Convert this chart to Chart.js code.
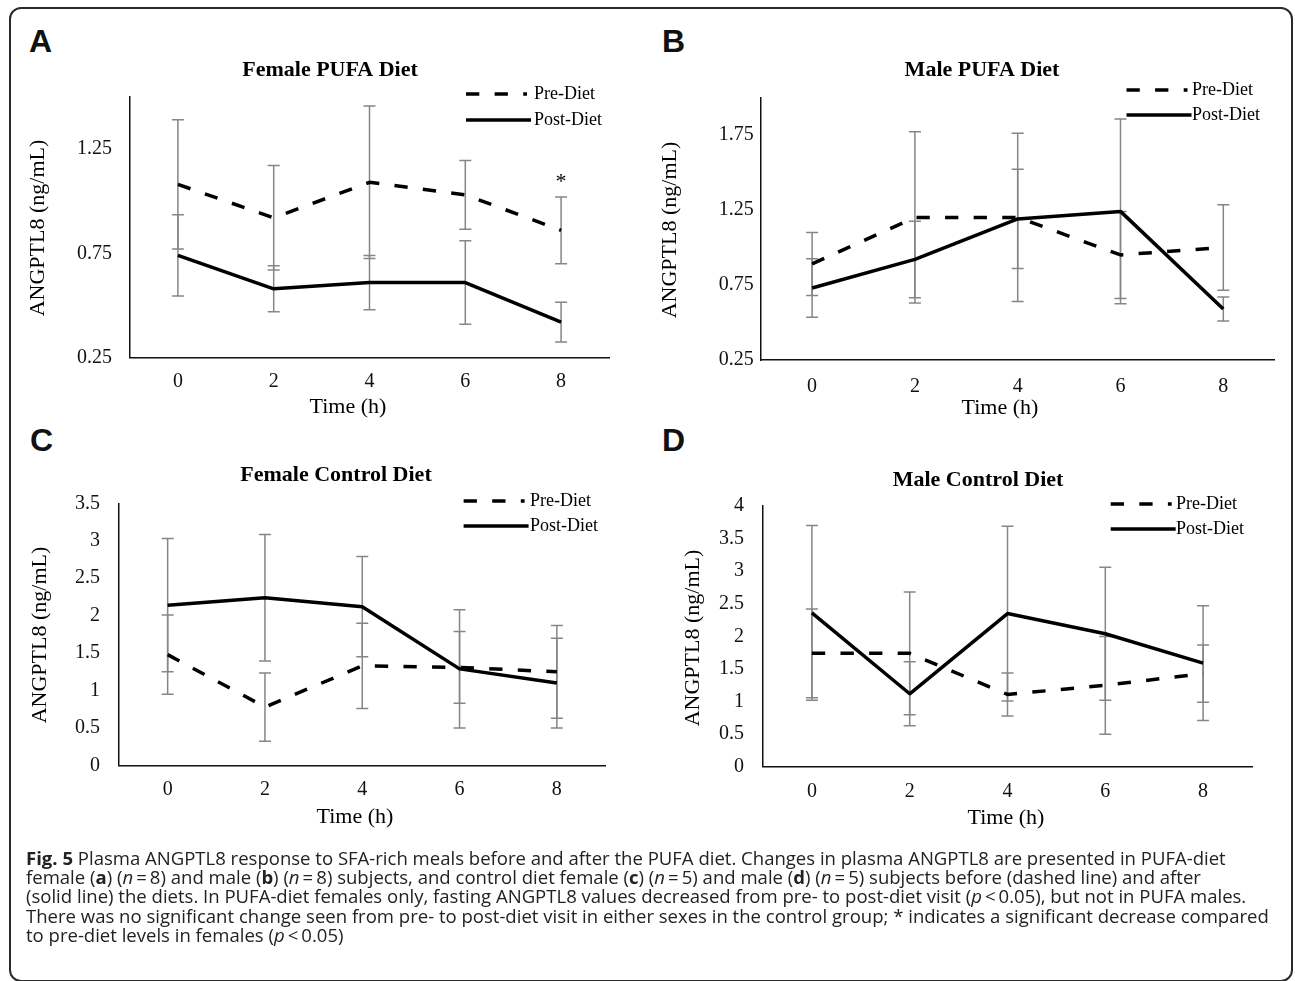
<!DOCTYPE html>
<html>
<head>
<meta charset="utf-8">
<script src="https://cdn.jsdelivr.net/npm/chart.js@4.4.1/dist/chart.umd.min.js"></script>
<style>
html,body{margin:0;padding:0;background:#fff;}
#page{position:relative;width:1295px;height:981px;overflow:hidden;background:#fff;}
canvas.layer{position:absolute;left:0;top:0;}
.frame{position:absolute;left:9px;top:7px;width:1284px;height:975px;box-sizing:border-box;border:2px solid #2b2b2b;border-radius:12px;}
.plabel{position:absolute;font-family:"Liberation Sans",Arial,sans-serif;font-weight:bold;font-size:32px;line-height:32px;color:#111;}
.caption{position:absolute;left:26px;top:848px;font-family:"Open Sans",sans-serif;font-size:18.55px;line-height:19.2px;color:#222;white-space:nowrap;}
</style>
</head>
<body>
<div id="page">
  <div class="frame"></div>
  <div class="plabel" style="left:29px;top:25px;">A</div>
  <div class="plabel" style="left:662px;top:25px;">B</div>
  <div class="plabel" style="left:30px;top:424px;">C</div>
  <div class="plabel" style="left:662px;top:424px;">D</div>
  <canvas id="cA" class="layer" width="1295" height="981"></canvas>
  <canvas id="cB" class="layer" width="1295" height="981"></canvas>
  <canvas id="cC" class="layer" width="1295" height="981"></canvas>
  <canvas id="cD" class="layer" width="1295" height="981"></canvas>
  <div class="caption">
    <div><b>Fig. 5</b> Plasma ANGPTL8 response to SFA-rich meals before and after the PUFA diet. Changes in plasma ANGPTL8 are presented in PUFA-diet</div>
    <div>female (<b>a</b>) (<i>n</i>&thinsp;=&thinsp;8) and male (<b>b</b>) (<i>n</i>&thinsp;=&thinsp;8) subjects, and control diet female (<b>c</b>) (<i>n</i>&thinsp;=&thinsp;5) and male (<b>d</b>) (<i>n</i>&thinsp;=&thinsp;5) subjects before (dashed line) and after</div>
    <div>(solid line) the diets. In PUFA-diet females only, fasting ANGPTL8 values decreased from pre- to post-diet visit (<i>p</i>&thinsp;&lt;&thinsp;0.05), but not in PUFA males.</div>
    <div>There was no significant change seen from pre- to post-diet visit in either sexes in the control group; * indicates a significant decrease compared</div>
    <div>to pre-diet levels in females (<i>p</i>&thinsp;&lt;&thinsp;0.05)</div>
  </div>
</div>
<script>
// ---------------- data ----------------
const timeLabels = ['0', '2', '4', '6', '8'];
const seriesNames = ['Pre-Diet', 'Post-Diet'];
const titles = ['Female PUFA Diet', 'Male PUFA Diet', 'Female Control Diet', 'Male Control Diet'];
const xAxisTitle = 'Time (h)';
const yAxisTitle = 'ANGPTL8 (ng/mL)';

// A: Female PUFA diet
const preA = [1.08, 0.92, 1.09, 1.03, 0.86];
const postA = [0.74, 0.58, 0.61, 0.61, 0.42];
const preErrA = [0.31, 0.25, 0.365, 0.165, 0.16];
const postErrA = [0.195, 0.11, 0.13, 0.2, 0.095];
const yTicksA = [0.25, 0.75, 1.25];
const yRangeA = [0.25, 1.5];
const sigIndexA = [4];

// B: Male PUFA diet
const preB = [0.89, 1.2, 1.2, 0.95, 1.0];
const postB = [0.73, 0.92, 1.19, 1.24, 0.59];
const preErrB = [0.21, 0.57, 0.56, 0.29, 0.285];
const postErrB = [0.195, 0.255, 0.33, 0.615, 0.08];
const yTicksB = [0.25, 0.75, 1.25, 1.75];
const yRangeB = [0.25, 2.0];
const sigIndexB = [];

// C: Female control diet
const preC = [1.48, 0.78, 1.33, 1.31, 1.25];
const postC = [2.14, 2.24, 2.12, 1.29, 1.10];
const preErrC = [0.53, 0.455, 0.57, 0.48, 0.62];
const postErrC = [0.89, 0.845, 0.67, 0.79, 0.6];
const yTicksC = [0, 0.5, 1, 1.5, 2, 2.5, 3, 3.5];
const yRangeC = [0, 3.5];
const sigIndexC = [];

// D: Male control diet
const preD = [1.74, 1.74, 1.11, 1.25, 1.43];
const postD = [2.36, 1.12, 2.35, 2.04, 1.59];
const preErrD = [0.68, 0.94, 0.33, 0.75, 0.44];
const postErrD = [1.34, 0.49, 1.34, 1.02, 0.88];
const yTicksD = [0, 0.5, 1, 1.5, 2, 2.5, 3, 3.5, 4];
const yRangeD = [0, 4];
const sigIndexD = [];

// ---------------- layout (page pixels) ----------------
const W = 1295, H = 981;
const Y_AXIS_W = 80, X_AXIS_H = 40;
const SERIF = '"Liberation Serif", "Times New Roman", serif';
const DASH = [13.3, 15.3];

const layouts = {
  A: {area: {l: 130, r: 609, t: 96.7, b: 357.7}, yPad: 18, xPad: 12,
      title: [330, 70], xTitle: [348, 407], yTitle: [38, 228],
      legend: {x: 466, tx: 534, yPre: 94, yPost: 120}},
  B: {area: {l: 760.7, r: 1274.7, t: 97.3, b: 360}, yPad: 7, xPad: 14.5,
      title: [982, 70], xTitle: [1000, 408], yTitle: [670, 230],
      legend: {x: 1126.5, tx: 1192, yPre: 90, yPost: 115}},
  C: {area: {l: 119, r: 605.5, t: 503.3, b: 765.5}, yPad: 19, xPad: 12.5,
      title: [336, 475], xTitle: [355, 817], yTitle: [40, 635],
      legend: {x: 463.6, tx: 530, yPre: 501, yPost: 526}},
  D: {area: {l: 763, r: 1252, t: 506, b: 766.8}, yPad: 19, xPad: 13,
      title: [978, 480], xTitle: [1006, 818], yTitle: [693.5, 638],
      legend: {x: 1110.7, tx: 1176, yPre: 504, yPost: 529}}
};

function decoPlugin(key, title, errSets, sigIdx) {
  const L = layouts[key];
  return {
    id: 'deco' + key,
    beforeDatasetsDraw(chart) {
      const {ctx} = chart, x = chart.scales.x, y = chart.scales.y;
      ctx.save();
      ctx.strokeStyle = '#868686';
      ctx.lineWidth = 1.5;
      errSets.forEach(([means, errs]) => {
        means.forEach((m, i) => {
          const px = x.getPixelForValue(i);
          const yt = y.getPixelForValue(m + errs[i]);
          const yb = y.getPixelForValue(m - errs[i]);
          ctx.beginPath();
          ctx.moveTo(px, yt); ctx.lineTo(px, yb);
          ctx.moveTo(px - 6, yt); ctx.lineTo(px + 6, yt);
          ctx.moveTo(px - 6, yb); ctx.lineTo(px + 6, yb);
          ctx.stroke();
        });
      });
      ctx.restore();
    },
    afterDraw(chart) {
      const {ctx} = chart, x = chart.scales.x, y = chart.scales.y;
      ctx.save();
      ctx.fillStyle = '#000';
      // chart title
      ctx.font = 'bold 22px ' + SERIF;
      ctx.textAlign = 'center';
      ctx.textBaseline = 'middle';
      ctx.fillText(title, L.title[0], L.title[1]);
      // axis titles
      ctx.font = '22px ' + SERIF;
      ctx.fillText(xAxisTitle, L.xTitle[0], L.xTitle[1]);
      ctx.save();
      ctx.translate(L.yTitle[0], L.yTitle[1]);
      ctx.rotate(-Math.PI / 2);
      ctx.fillText(yAxisTitle, 0, 0);
      ctx.restore();
      // legend
      const lg = L.legend;
      ctx.strokeStyle = '#000';
      ctx.lineWidth = 3.5;
      ctx.lineCap = 'butt';
      ctx.setLineDash(DASH);
      ctx.beginPath(); ctx.moveTo(lg.x, lg.yPre); ctx.lineTo(lg.x + 61, lg.yPre); ctx.stroke();
      ctx.setLineDash([]);
      ctx.beginPath(); ctx.moveTo(lg.x, lg.yPost); ctx.lineTo(lg.x + 65, lg.yPost); ctx.stroke();
      ctx.font = '18px ' + SERIF;
      ctx.textAlign = 'left';
      ctx.fillText(chart.data.datasets[0].label, lg.tx, lg.yPre);
      ctx.fillText(chart.data.datasets[1].label, lg.tx, lg.yPost);
      // significance marks above the pre-diet error bar
      const pre = errSets[0];
      ctx.font = '22px ' + SERIF;
      ctx.textAlign = 'center';
      ctx.textBaseline = 'alphabetic';
      sigIdx.forEach(i => {
        const px = x.getPixelForValue(i);
        const top = y.getPixelForValue(pre[0][i] + pre[1][i]);
        ctx.fillText('*', px, top - 20 + 11);
      });
      ctx.restore();
    }
  };
}

function makePanel(key, canvasId, title, pre, post, preErr, postErr, yTicks, yRange, sigIdx) {
  const L = layouts[key];
  const a = L.area;
  const tickFont = {family: SERIF, size: 20};
  new Chart(document.getElementById(canvasId), {
    type: 'line',
    data: {
      labels: timeLabels,
      datasets: [
        {label: seriesNames[0], data: pre, borderColor: '#000', borderWidth: 3.5,
         borderDash: DASH, pointRadius: 0, tension: 0, fill: false, borderJoinStyle: 'round'},
        {label: seriesNames[1], data: post, borderColor: '#000', borderWidth: 3.5,
         pointRadius: 0, tension: 0, fill: false, borderJoinStyle: 'round'}
      ]
    },
    options: {
      responsive: false,
      animation: false,
      devicePixelRatio: 1,
      events: [],
      layout: {padding: {left: a.l - Y_AXIS_W, top: a.t, right: W - a.r, bottom: H - a.b - X_AXIS_H}},
      plugins: {legend: {display: false}, title: {display: false}, tooltip: {enabled: false}},
      scales: {
        x: {
          type: 'category', offset: true,
          grid: {display: false, drawTicks: false},
          border: {display: true, color: '#111', width: 1.5},
          ticks: {font: tickFont, color: '#111', padding: L.xPad, maxRotation: 0, autoSkip: false},
          afterFit: s => { s.height = X_AXIS_H; }
        },
        y: {
          min: yRange[0], max: yRange[1],
          grid: {display: false, drawTicks: false},
          border: {display: true, color: '#111', width: 1.5},
          ticks: {font: tickFont, color: '#111', padding: L.yPad, callback: v => String(v)},
          afterBuildTicks: s => { s.ticks = yTicks.map(v => ({value: v})); },
          afterFit: s => { s.width = Y_AXIS_W; }
        }
      }
    },
    plugins: [decoPlugin(key, title, [[pre, preErr], [post, postErr]], sigIdx)]
  });
}

makePanel('A', 'cA', titles[0], preA, postA, preErrA, postErrA, yTicksA, yRangeA, sigIndexA);
makePanel('B', 'cB', titles[1], preB, postB, preErrB, postErrB, yTicksB, yRangeB, sigIndexB);
makePanel('C', 'cC', titles[2], preC, postC, preErrC, postErrC, yTicksC, yRangeC, sigIndexC);
makePanel('D', 'cD', titles[3], preD, postD, preErrD, postErrD, yTicksD, yRangeD, sigIndexD);
</script>
</body>
</html>
